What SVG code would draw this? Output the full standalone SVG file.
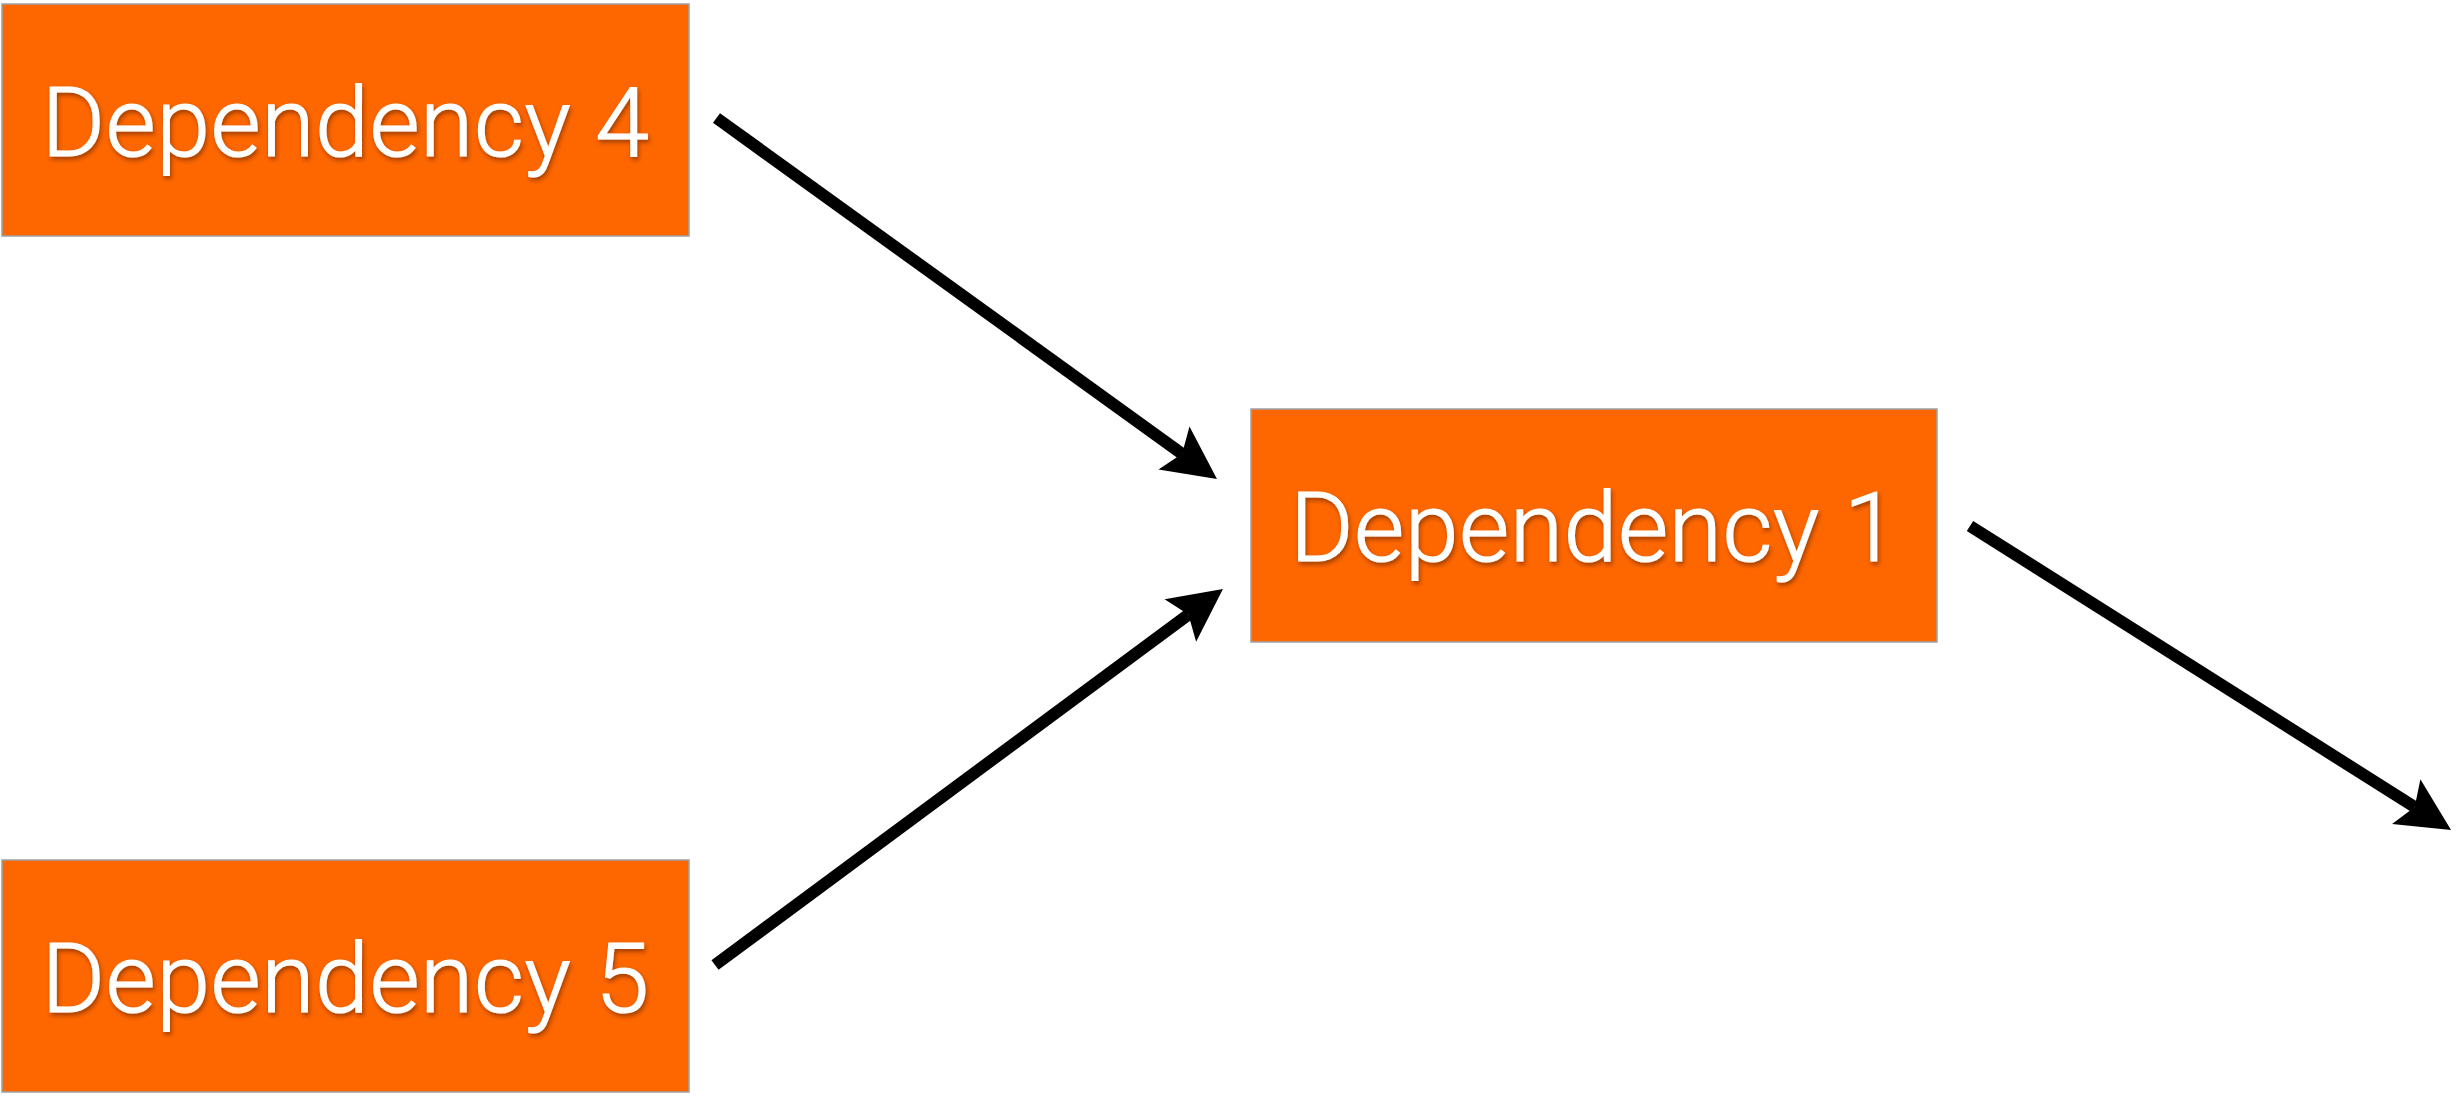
<svg xmlns="http://www.w3.org/2000/svg" width="2459" height="1096" viewBox="0 0 2459 1096">
  <style>
    .box { fill: #fe6700; stroke: #9da3a8; stroke-width: 1.5; }
    .label { font-family: Roboto, "Liberation Sans", sans-serif; font-weight: 300; font-size: 97px; letter-spacing: 0.5px; fill: #ffffff; stroke: #ffffff; stroke-width: 1.2; text-anchor: middle; filter: url(#textShadow); }
    .edge { stroke: #000000; stroke-width: 12; fill: none; stroke-linecap: butt; marker-end: url(#head); }
  </style>
  <defs>
    <filter id="textShadow" x="-10%" y="-20%" width="120%" height="150%">
      <feDropShadow dx="1.5" dy="3" stdDeviation="2" flood-color="#5a2000" flood-opacity="0.55"/>
    </filter>
    <!-- swept-back arrowhead; reference point sits at the notch where the shaft ends -->
    <marker id="head" markerUnits="userSpaceOnUse" orient="auto" refX="0" refY="0" markerWidth="80" markerHeight="80" overflow="visible">
      <path d="M43,0 L-10,-26.5 L0,0 L-10,26.5 Z" fill="#000000"/>
    </marker>
  </defs>

  <g id="dependency-4">
    <rect class="box" x="2" y="4" width="687" height="232"/>
    <text class="label" x="345.5" y="156">Dependency 4</text>
  </g>

  <g id="dependency-5">
    <rect class="box" x="2" y="860" width="687" height="232"/>
    <text class="label" x="345.5" y="1012">Dependency 5</text>
  </g>

  <g id="dependency-1">
    <rect class="box" x="1251" y="409" width="686" height="233"/>
    <text class="label" x="1594" y="561">Dependency 1</text>
  </g>

  <g id="connectors">
    <line class="edge" x1="716.5" y1="118" x2="1182.1" y2="453.8"/>
    <line class="edge" x1="715" y1="965" x2="1188.4" y2="614.6"/>
    <line class="edge" x1="1970" y1="526" x2="2414.7" y2="807"/>
  </g>
</svg>
